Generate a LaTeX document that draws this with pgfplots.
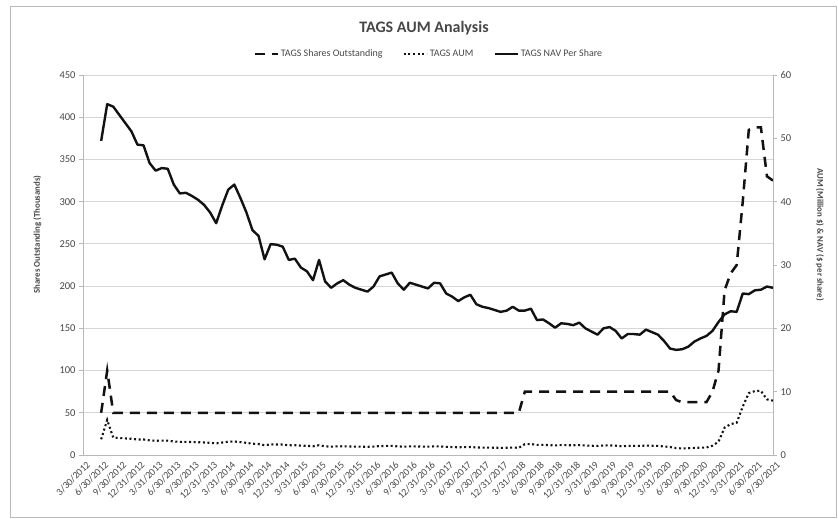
\documentclass[border=0pt]{standalone}
\usepackage{fontspec}
\setmainfont{Carlito}
\usepackage{pgfplots}
\usepackage{pgfplotstable}
\pgfplotsset{compat=1.18}
\definecolor{gridgray}{gray}{0.84}
\definecolor{axisgray}{gray}{0.72}
\definecolor{txt}{gray}{0.28}
\definecolor{ln}{gray}{0.07}
\pgfplotstableread{
m shares nav aum
3 50 49.6 2.48
4 100 55.4 5.54
5 50 55.0 2.75
6 50 53.7 2.69
7 50 52.4 2.62
8 50 51.1 2.56
9 50 49.0 2.45
10 50 48.9 2.45
11 50 46.1 2.31
12 50 44.9 2.25
13 50 45.3 2.27
14 50 45.2 2.26
15 50 42.7 2.14
16 50 41.3 2.07
17 50 41.4 2.07
18 50 40.9 2.05
19 50 40.3 2.02
20 50 39.5 1.98
21 50 38.3 1.92
22 50 36.6 1.83
23 50 39.4 1.97
24 50 41.9 2.10
25 50 42.7 2.14
26 50 40.6 2.03
27 50 38.3 1.92
28 50 35.5 1.78
29 50 34.6 1.73
30 50 30.9 1.55
31 50 33.3 1.67
32 50 33.2 1.66
33 50 32.9 1.65
34 50 30.8 1.54
35 50 31.0 1.55
36 50 29.6 1.48
37 50 29.0 1.45
38 50 27.6 1.38
39 50 30.8 1.54
40 50 27.4 1.37
41 50 26.4 1.32
42 50 27.1 1.36
43 50 27.6 1.38
44 50 26.9 1.35
45 50 26.4 1.32
46 50 26.1 1.31
47 50 25.8 1.29
48 50 26.6 1.33
49 50 28.2 1.41
50 50 28.5 1.43
51 50 28.8 1.44
52 50 27.1 1.36
53 50 26.1 1.31
54 50 27.2 1.36
55 50 26.9 1.35
56 50 26.6 1.33
57 50 26.3 1.32
58 50 27.2 1.36
59 50 27.1 1.36
60 50 25.5 1.28
61 50 25.0 1.25
62 50 24.3 1.22
63 50 24.9 1.25
64 50 25.3 1.27
65 50 23.8 1.19
66 50 23.4 1.17
67 50 23.2 1.16
68 50 22.9 1.15
69 50 22.6 1.13
70 50 22.8 1.14
71 50 23.4 1.17
72 50 22.8 1.14
73 75 22.8 1.71
74 75 23.1 1.73
75 75 21.3 1.60
76 75 21.4 1.61
77 75 20.8 1.56
78 75 20.1 1.51
79 75 20.8 1.56
80 75 20.7 1.55
81 75 20.5 1.54
82 75 20.9 1.57
83 75 20.0 1.50
84 75 19.5 1.46
85 75 19.0 1.43
86 75 20.0 1.50
87 75 20.2 1.52
88 75 19.6 1.47
89 75 18.4 1.38
90 75 19.1 1.43
91 75 19.1 1.43
92 75 19.0 1.43
93 75 19.8 1.49
94 75 19.4 1.46
95 75 19.0 1.43
96 75 18.0 1.35
97 75 16.8 1.26
98 65 16.6 1.08
99 62.5 16.7 1.04
100 62.5 17.1 1.07
101 62.5 17.9 1.12
102 62.5 18.4 1.15
103 62.5 18.8 1.18
104 75 19.6 1.47
105 100 21.0 2.10
106 195 22.2 4.33
107 215 22.7 4.88
108 225 22.6 5.09
109 300 25.5 7.65
110 385 25.4 9.78
111 388 26.0 10.09
112 388 26.1 10.13
113 330 26.6 8.78
114 325 26.4 8.58
}\data
\tikzset{
 sharesstyle/.style={ln, line width=2.5pt, dash pattern=on 10pt off 7pt},
 aumstyle/.style={ln, line width=2.1pt, dash pattern=on 2pt off 2.6pt},
 navstyle/.style={ln, line width=2.4pt, line join=round},
}
\pgfplotsset{
 common/.style={
   at={(83pt,-455pt)}, anchor=south west, scale only axis,
   width=690pt, height=380pt, xmin=0, xmax=114, clip=false,
   /pgf/number format/assume math mode=true,
   tick label style={font=\fontsize{10.5}{12}\selectfont, text=txt},
   axis line style={axisgray, line width=0.8pt},
   tick style={axisgray, line width=0.8pt},
   tick align=outside, major tick length=4pt,
 }
}
\begin{document}
\begin{tikzpicture}
\useasboundingbox (0pt,0pt) rectangle (838pt,-519pt);
\draw[gray!55, line width=0.8pt] (10pt,-6pt) rectangle (836pt,-517pt);
\node[font=\fontsize{16}{19}\selectfont\bfseries, text=txt] at (424pt,-28pt) {TAGS AUM Analysis};
\begin{axis}[common,
  ymin=0, ymax=450, ytick={0,50,...,450},
  axis y line*=left, axis x line*=bottom,
  ymajorgrids, grid style={gridgray, line width=0.8pt},
  xtick={0,3,...,114},
  xticklabels={3/30/2012,6/30/2012,9/30/2012,12/31/2012,3/31/2013,6/30/2013,9/30/2013,12/31/2013,3/31/2014,6/30/2014,9/30/2014,12/31/2014,3/31/2015,6/30/2015,9/30/2015,12/31/2015,3/31/2016,6/30/2016,9/30/2016,12/31/2016,3/31/2017,6/30/2017,9/30/2017,12/31/2017,3/31/2018,6/30/2018,9/30/2018,12/31/2018,3/31/2019,6/30/2019,9/30/2019,12/31/2019,3/31/2020,6/30/2020,9/30/2020,12/31/2020,3/31/2021,6/30/2021,9/30/2021},
  x tick style={draw=none},
  x tick label style={rotate=45, anchor=north east, inner sep=1pt, xshift=2pt, yshift=-2pt, font=\fontsize{10}{12}\selectfont},
  ylabel={Shares Outstanding (Thousands)},
  ylabel style={font=\fontsize{8.8}{10}\selectfont\bfseries, text=txt, at={(axis description cs:-0.066,0.58)}, anchor=center},
]
\addplot[sharesstyle] table[x=m, y=shares] {\data};
\end{axis}
\begin{axis}[common,
  ymin=0, ymax=60, ytick={0,10,...,60},
  axis y line*=right, axis x line=none,
  ylabel={AUM (Million \$) \& NAV (\$ per share)},
  ylabel style={font=\fontsize{8.8}{10}\selectfont\bfseries, text=txt, at={(axis description cs:1.068,0.58)}, anchor=center, rotate=180},
  legend columns=3,
  legend style={at={(0.501,1.055)}, anchor=center, draw=none, fill=none,
    font=\fontsize{10}{12}\selectfont, text=txt,
    /tikz/every even column/.append style={column sep=18pt}},
  legend image code/.code={\draw[#1] (0pt,0pt) -- (23pt,0pt);},
]
\addlegendimage{sharesstyle}
\addlegendentry{TAGS Shares Outstanding}
\addplot[aumstyle] table[x=m, y=aum] {\data};
\addlegendentry{TAGS AUM}
\addplot[navstyle] table[x=m, y=nav] {\data};
\addlegendentry{TAGS NAV Per Share}
\end{axis}
\end{tikzpicture}
\end{document}
